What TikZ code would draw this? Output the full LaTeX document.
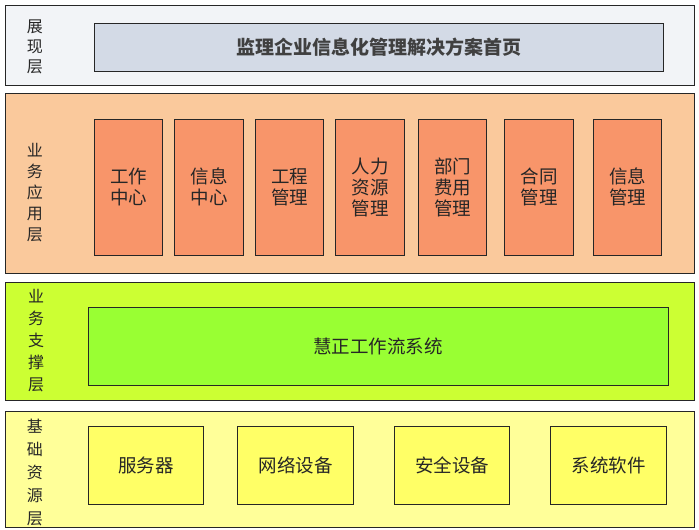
\documentclass[tikz,border=0pt]{standalone}
\usepackage{fontspec}
\setmainfont{Noto Sans CJK SC}
\usetikzlibrary{positioning}

\definecolor{showbg}{HTML}{F2F4F7}
\definecolor{titlebg}{HTML}{D3DAE6}
\definecolor{appbg}{HTML}{FAC99C}
\definecolor{appbox}{HTML}{F8956A}
\definecolor{supbg}{HTML}{CCFF33}
\definecolor{supbox}{HTML}{99FF33}
\definecolor{resbg}{HTML}{FFFF99}
\definecolor{resbox}{HTML}{FFFF66}

\begin{document}
\begin{tikzpicture}[
    x=1pt, y=-1pt,
    layer/.style={draw=black!85, line width=1pt, minimum width=689pt, inner sep=0pt},
    tag/.style={align=center, inner sep=0pt, text=black!85},
    box/.style={draw=black!85, line width=0.8pt, inner sep=0pt, align=center, font=\fontsize{18.5}{21}\selectfont, text=black!85},
    appmod/.style={box, fill=appbox, minimum width=68.5pt, minimum height=136pt},
    resmod/.style={box, fill=resbox, minimum width=115.5pt, minimum height=78pt},
]
\useasboundingbox[fill=white] (0,0) rectangle (699,530);

% presentation layer
\node[layer, fill=showbg, minimum height=80pt] (show) at (349.5,45) {};
\node[tag, font=\fontsize{16}{20}\selectfont] (show_tag) at (35,47) {展\\现\\层};
\node[box, fill=titlebg, minimum width=569pt, minimum height=48pt, font=\fontsize{19}{21}\selectfont\bfseries, text=black!75] (home) at (378.5,47) {监理企业信息化管理解决方案首页};

% application layer
\node[layer, fill=appbg, minimum height=180pt] (app) at (350,183) {};
\node[tag, font=\fontsize{16}{21}\selectfont] (app_tag) at (35,193) {业\\务\\应\\用\\层};
\node[appmod] (work) at (128.5,187) {工作\\中心};
\node[appmod, right=11.2pt of work] (info) {信息\\中心};
\node[appmod, right=11.2pt of info] (proj) {工程\\管理};
\node[appmod, right=11.2pt of proj] (hr) {人力\\资源\\管理};
\node[appmod, right=13.2pt of hr] (dept) {部门\\费用\\管理};
\node[appmod, right=17.2pt of dept] (contract) {合同\\管理};
\node[appmod, right=19.2pt of contract] (infomgr) {信息\\管理};

% support layer
\node[layer, fill=supbg, minimum height=118pt] (sup) at (349.5,341) {};
\node[tag, font=\fontsize{16}{22}\selectfont] (sup_tag) at (36,341) {业\\务\\支\\撑\\层};
\node[box, fill=supbox, minimum width=580pt, minimum height=78pt] (flow) at (378,346) {慧正工作流系统};

% resource layer
\node[layer, fill=resbg, minimum height=116pt] (res) at (349.5,469) {};
\node[tag, font=\fontsize{16}{23}\selectfont] (res_tag) at (35,472) {基\\础\\资\\源\\层};
\node[resmod] (server) at (146,465) {服务器};
\node[resmod, right=33.2pt of server] (network) {网络设备};
\node[resmod, right=40.2pt of network] (security) {安全设备};
\node[resmod, right=40.2pt of security] (software) {系统软件};

\end{tikzpicture}
\end{document}
